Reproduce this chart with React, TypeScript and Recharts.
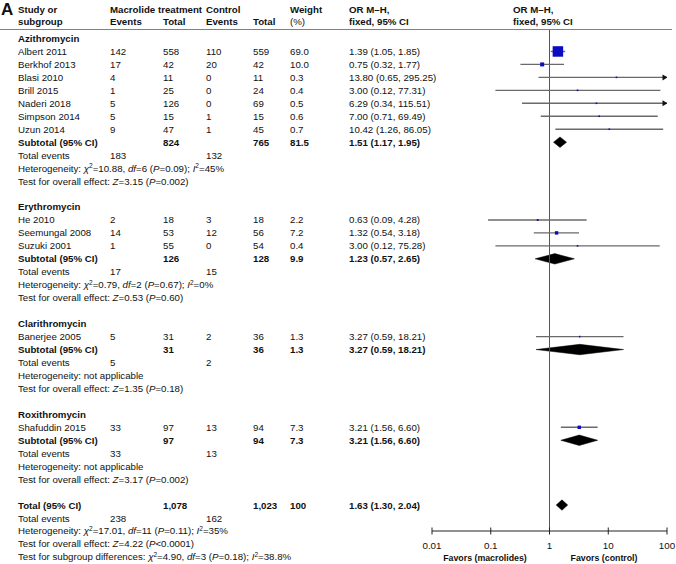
import { ComposedChart, XAxis, YAxis, Scatter, Area, ReferenceLine } from 'recharts'

// ---- data ----
const groupNames = ['Azithromycin', 'Erythromycin', 'Clarithromycin', 'Roxithromycin']

const studyNames = [
  'Albert 2011', 'Berkhof 2013', 'Blasi 2010', 'Brill 2015', 'Naderi 2018', 'Simpson 2014', 'Uzun 2014',
  'He 2010', 'Seemungal 2008', 'Suzuki 2001',
  'Banerjee 2005',
  'Shafuddin 2015',
]
const studyGroup = [0, 0, 0, 0, 0, 0, 0, 1, 1, 1, 2, 3]
const macEvents = [142, 17, 4, 1, 5, 5, 9, 2, 14, 1, 5, 33]
const macTotal = [558, 42, 11, 25, 126, 15, 47, 18, 53, 55, 31, 97]
const ctlEvents = [110, 20, 0, 0, 0, 1, 1, 3, 12, 0, 2, 13]
const ctlTotal = [559, 42, 11, 24, 69, 15, 45, 18, 56, 54, 36, 94]
const weights = [69.0, 10.0, 0.3, 0.4, 0.5, 0.6, 0.7, 2.2, 7.2, 0.4, 1.3, 7.3]
const orEst = [1.39, 0.75, 13.8, 3.0, 6.29, 7.0, 10.42, 0.63, 1.32, 3.0, 3.27, 3.21]
const orLow = [1.05, 0.32, 0.65, 0.12, 0.34, 0.71, 1.26, 0.09, 0.54, 0.12, 0.59, 1.56]
const orHigh = [1.85, 1.77, 295.25, 77.31, 115.51, 69.49, 86.05, 4.28, 3.18, 75.28, 18.21, 6.6]

const subMacTotal = [824, 126, 31, 97]
const subCtlTotal = [765, 128, 36, 94]
const subWeight = [81.5, 9.9, 1.3, 7.3]
const subEst = [1.51, 1.23, 3.27, 3.21]
const subLow = [1.17, 0.57, 0.59, 1.56]
const subHigh = [1.95, 2.65, 18.21, 6.6]
const subMacEvents = [183, 17, 5, 33]
const subCtlEvents = [132, 15, 2, 13]
const subChi2 = [10.88, 0.79, null, null]
const subDf = [6, 2, null, null]
const subHetP = ['0.09', '0.67', null, null]
const subI2 = ['45', '0', null, null]
const subZ = ['3.15', '0.53', '1.35', '3.17']
const subZP = ['=0.002', '=0.60', '=0.18', '=0.002']

const totalN = [1078, 1023]
const totalEvents = [238, 162]
const totalOR = [1.63, 1.3, 2.04]
const totalHet = ['17.01', '11', '0.11', '35']
const totalZ = ['4.22', '<0.0001']
const subgroupDiff = ['4.90', '3', '0.18', '38.8']

const xTicks = [0.01, 0.1, 1, 10, 100]

// ---- layout ----
const W = 676
const H = 564
const FONT = '"Liberation Sans", Arial, Helvetica, sans-serif'
const FS = 9.7
const ROW0 = 38.5
const ROW_H = 12.96
const PLOT_TOP = 30
const PLOT_BOTTOM = 531
const X_LEFT = 432
const X_RIGHT = 667
const BASE = 3.5
const rowY = (r: number) => ROW0 + r * ROW_H
const COL = { name: 18, mEv: 110, mTot: 163, cEv: 206, cTot: 253, wt: 290, or: 349 }

const f2 = (v: number) => v.toFixed(2)
const fmtOR = (e: number, l: number, h: number) => `${f2(e)} (${f2(l)}, ${f2(h)})`
const fmtN = (n: number) => n.toLocaleString('en-US')

type Row = { r: number; kind: string; idx: number }
const rows: Row[] = []
let rr = 0
groupNames.forEach((_, g) => {
  rows.push({ r: rr++, kind: 'group', idx: g })
  studyGroup.forEach((sg, i) => {
    if (sg === g) rows.push({ r: rr++, kind: 'study', idx: i })
  })
  rows.push({ r: rr++, kind: 'subtotal', idx: g })
  rows.push({ r: rr++, kind: 'events', idx: g })
  rows.push({ r: rr++, kind: 'het', idx: g })
  rows.push({ r: rr++, kind: 'z', idx: g })
  rr++
})
const totalRow = rr

const rowOf = (kind: string, idx: number) => rows.find((x) => x.kind === kind && x.idx === idx)!.r

const squares = studyNames.map((_, i) => ({ x: orEst[i], y: rowOf('study', i), w: weights[i] }))
const ciSegs = studyNames.map((_, i) => ({ lo: orLow[i], hi: Math.min(orHigh[i], 100), y: rowOf('study', i) }))
const arrows = studyNames
  .map((_, i) => ({ x: 100, y: rowOf('study', i), over: orHigh[i] > 100 }))
  .filter((a) => a.over)

const DH = 5.2 / ROW_H
const diamondOf = (e: number, l: number, h: number, r: number) => [
  { x: l, band: [r, r] },
  { x: e, band: [r - DH, r + DH] },
  { x: h, band: [r, r] },
]
const diamonds = [
  ...groupNames.map((_, g) => diamondOf(subEst[g], subLow[g], subHigh[g], rowOf('subtotal', g))),
  diamondOf(totalOR[0], totalOR[1], totalOR[2], totalRow),
]

const yDomain = [(PLOT_TOP - ROW0) / ROW_H, (PLOT_BOTTOM - ROW0) / ROW_H]

function Txt({ x, r, y, bold, size, anchor, children }: any) {
  return (
    <text
      x={x}
      y={y !== undefined ? y : rowY(r) + BASE}
      fontSize={size || FS}
      fontWeight={bold ? 'bold' : 'normal'}
      textAnchor={anchor || 'start'}
      fill="#111"
      fontFamily={FONT}
    >
      {children}
    </text>
  )
}

const It = ({ children }: any) => <tspan fontStyle="italic">{children}</tspan>

function HetText({ r, prefix, chi, df, p, i2 }: any) {
  return (
    <Txt x={COL.name} r={r}>
      {prefix}
      <It>χ</It>
      <tspan dy={-3.5} fontSize={6.5}>2</tspan>
      <tspan dy={3.5}>={chi}, </tspan>
      <It>df</It>={df} (<It>P</It>={p}); <It>I</It>
      <tspan dy={-3.5} fontSize={6.5}>2</tspan>
      <tspan dy={3.5}>={i2}%</tspan>
    </Txt>
  )
}

function AxisTick({ x, y, payload }: any) {
  return (
    <g>
      <line x1={x} x2={x} y1={y - 3.5} y2={y + 3.5} stroke="#222" strokeWidth={1} />
      <text x={x} y={y + 17.5} textAnchor="middle" fontSize={9.8} fill="#111" fontFamily={FONT}>
        {payload.value}
      </text>
    </g>
  )
}

function Square(props: any) {
  const { cx, cy, payload } = props
  const s = Math.max(1.6, 10.5 * Math.sqrt(payload.w / 69))
  return <rect x={cx - s / 2} y={cy - s / 2} width={s} height={s} fill="#0b0bc4" />
}

function Arrow(props: any) {
  const { cx, cy } = props
  return <polygon points={`${cx - 4.5},${cy - 3} ${cx + 0.5},${cy} ${cx - 4.5},${cy + 3}`} fill="#111" />
}

function TableText() {
  const out: any[] = []
  rows.forEach((row) => {
    const { r, kind, idx } = row
    const k = `${kind}-${idx}`
    if (kind === 'group') {
      out.push(<Txt key={k} x={COL.name} r={r} bold>{groupNames[idx]}</Txt>)
    } else if (kind === 'study') {
      out.push(
        <g key={k}>
          <Txt x={COL.name} r={r}>{studyNames[idx]}</Txt>
          <Txt x={COL.mEv} r={r}>{macEvents[idx]}</Txt>
          <Txt x={COL.mTot} r={r}>{macTotal[idx]}</Txt>
          <Txt x={COL.cEv} r={r}>{ctlEvents[idx]}</Txt>
          <Txt x={COL.cTot} r={r}>{ctlTotal[idx]}</Txt>
          <Txt x={COL.wt} r={r}>{weights[idx].toFixed(1)}</Txt>
          <Txt x={COL.or} r={r}>{fmtOR(orEst[idx], orLow[idx], orHigh[idx])}</Txt>
        </g>
      )
    } else if (kind === 'subtotal') {
      out.push(
        <g key={k}>
          <Txt x={COL.name} r={r} bold>Subtotal (95% CI)</Txt>
          <Txt x={COL.mTot} r={r} bold>{subMacTotal[idx]}</Txt>
          <Txt x={COL.cTot} r={r} bold>{subCtlTotal[idx]}</Txt>
          <Txt x={COL.wt} r={r} bold>{subWeight[idx].toFixed(1)}</Txt>
          <Txt x={COL.or} r={r} bold>{fmtOR(subEst[idx], subLow[idx], subHigh[idx])}</Txt>
        </g>
      )
    } else if (kind === 'events') {
      out.push(
        <g key={k}>
          <Txt x={COL.name} r={r}>Total events</Txt>
          <Txt x={COL.mEv} r={r}>{subMacEvents[idx]}</Txt>
          <Txt x={COL.cEv} r={r}>{subCtlEvents[idx]}</Txt>
        </g>
      )
    } else if (kind === 'het') {
      if (subChi2[idx] === null) {
        out.push(<Txt key={k} x={COL.name} r={r}>Heterogeneity: not applicable</Txt>)
      } else {
        out.push(
          <HetText key={k} r={r} prefix="Heterogeneity: " chi={f2(subChi2[idx] as number)} df={subDf[idx]} p={subHetP[idx]} i2={subI2[idx]} />
        )
      }
    } else if (kind === 'z') {
      out.push(
        <Txt key={k} x={COL.name} r={r}>
          Test for overall effect: <It>Z</It>={subZ[idx]} (<It>P</It>{subZP[idx]})
        </Txt>
      )
    }
  })
  const t = totalRow
  out.push(
    <g key="total">
      <Txt x={COL.name} r={t} bold>Total (95% CI)</Txt>
      <Txt x={COL.mTot} r={t} bold>{fmtN(totalN[0])}</Txt>
      <Txt x={COL.cTot} r={t} bold>{fmtN(totalN[1])}</Txt>
      <Txt x={COL.wt} r={t} bold>100</Txt>
      <Txt x={COL.or} r={t} bold>{fmtOR(totalOR[0], totalOR[1], totalOR[2])}</Txt>
      <Txt x={COL.name} r={t + 1}>Total events</Txt>
      <Txt x={COL.mEv} r={t + 1}>{totalEvents[0]}</Txt>
      <Txt x={COL.cEv} r={t + 1}>{totalEvents[1]}</Txt>
      <HetText r={t + 2} prefix="Heterogeneity: " chi={totalHet[0]} df={totalHet[1]} p={totalHet[2]} i2={totalHet[3]} />
      <Txt x={COL.name} r={t + 3}>
        Test for overall effect: <It>Z</It>={totalZ[0]} (<It>P</It>{totalZ[1]})
      </Txt>
      <HetText r={t + 4} prefix="Test for subgroup differences: " chi={subgroupDiff[0]} df={subgroupDiff[1]} p={subgroupDiff[2]} i2={subgroupDiff[3]} />
    </g>
  )
  return <>{out}</>
}

export default function App() {
  return (
    <div style={{ position: 'absolute', left: 0, top: 0, width: W, height: H, background: '#fff' }}>
      <ComposedChart
        width={W}
        height={H}
        margin={{ top: PLOT_TOP, right: W - X_RIGHT, left: X_LEFT, bottom: H - PLOT_BOTTOM - 30 }}
      >
        <XAxis
          type="number"
          dataKey="x"
          scale="log"
          domain={[0.01, 100]}
          ticks={xTicks}
          interval={0}
          allowDataOverflow
          height={30}
          tickSize={0}
          tickMargin={0}
          tickLine={false}
          axisLine={{ stroke: '#222' }}
          tick={(p: any) => <AxisTick {...p} />}
        />
        <YAxis type="number" dataKey="y" domain={yDomain} reversed hide allowDataOverflow width={0} />
        <ReferenceLine x={1} stroke="#555" strokeWidth={1} />
        {ciSegs.map((s, i) => (
          <ReferenceLine
            key={`ci-${i}`}
            segment={[{ x: s.lo, y: s.y }, { x: s.hi, y: s.y }]}
            stroke="#6a6a6a"
            strokeWidth={1.4}
            ifOverflow="visible"
          />
        ))}
        {diamonds.map((d, i) => (
          <Area
            key={`dm-${i}`}
            data={d}
            dataKey="band"
            type="linear"
            stroke="#000"
            strokeWidth={0.5}
            fill="#000"
            fillOpacity={1}
            dot={false}
            activeDot={false}
            isAnimationActive={false}
          />
        ))}
        <Scatter data={squares} dataKey="y" shape={(p: any) => <Square {...p} />} isAnimationActive={false} />
        <Scatter data={arrows} dataKey="y" shape={(p: any) => <Arrow {...p} />} isAnimationActive={false} />
      </ComposedChart>
      <svg width={W} height={H} style={{ position: 'absolute', left: 0, top: 0, pointerEvents: 'none' }}>
        <text x={1} y={15} fontSize={17} fontWeight="bold" fill="#111" fontFamily={FONT}>A</text>
        <Txt x={COL.name} y={12.5} bold>Study or</Txt>
        <Txt x={COL.name} y={24.5} bold>subgroup</Txt>
        <Txt x={COL.mEv} y={12.5} bold>Macrolide treatment</Txt>
        <Txt x={COL.cEv} y={12.5} bold>Control</Txt>
        <Txt x={COL.wt} y={12.5} bold>Weight</Txt>
        <Txt x={COL.mEv} y={24.5} bold>Events</Txt>
        <Txt x={COL.mTot} y={24.5} bold>Total</Txt>
        <Txt x={COL.cEv} y={24.5} bold>Events</Txt>
        <Txt x={COL.cTot} y={24.5} bold>Total</Txt>
        <Txt x={COL.wt} y={24.5}>(%)</Txt>
        <Txt x={COL.or} y={12.5} bold>OR M–H,</Txt>
        <Txt x={COL.or} y={24.5} bold>fixed, 95% CI</Txt>
        <Txt x={513} y={12.5} bold>OR M–H,</Txt>
        <Txt x={513} y={24.5} bold>fixed, 95% CI</Txt>
        <line x1={0} x2={672} y1={29.5} y2={29.5} stroke="#808080" strokeWidth={1} />
        <TableText />
        <Txt x={485} y={560.5} bold size={8.8} anchor="middle">Favors (macrolides)</Txt>
        <Txt x={604} y={560.5} bold size={8.8} anchor="middle">Favors (control)</Txt>
      </svg>
    </div>
  )
}
